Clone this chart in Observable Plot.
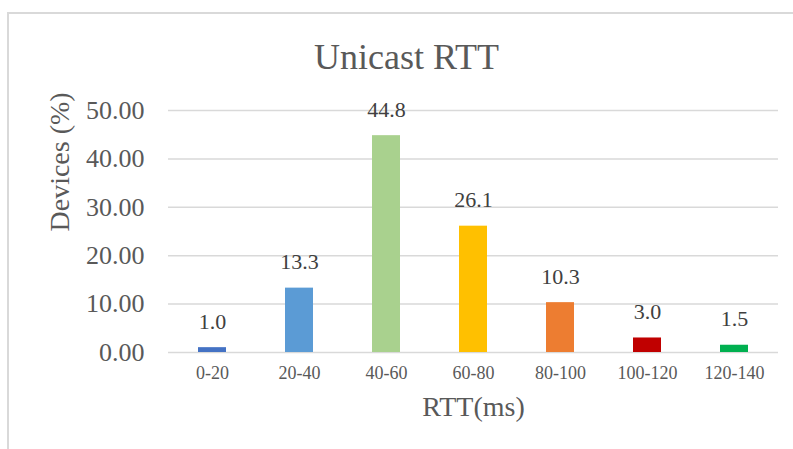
<!DOCTYPE html>
<html>
<head>
<meta charset="utf-8">
<script src="https://cdn.jsdelivr.net/npm/d3@7"></script>
<script src="https://cdn.jsdelivr.net/npm/@observablehq/plot@0.6"></script>
<style>
  html, body { margin: 0; padding: 0; background: #fff; overflow: hidden; }
  #wrap { position: relative; width: 793px; height: 449px; }
  #frame { position: absolute; left: 7px; top: 12px; width: 820px; height: 480px; border: 2px solid #d9d9d9; box-sizing: border-box; }
  #chart { position: absolute; left: 0; top: 0; }
</style>
</head>
<body>
<div id="wrap"><div id="frame"></div><div id="chart"></div></div>
<script>
const categories = ["0-20", "20-40", "40-60", "60-80", "80-100", "100-120", "120-140"];
const values = [1.0, 13.3, 44.8, 26.1, 10.3, 3.0, 1.5];
const colors = ["#4472C4", "#5B9BD5", "#A9D18E", "#FFC000", "#ED7D31", "#C00000", "#00B050"];
const yTicks = [0, 10, 20, 30, 40, 50];
const title = "Unicast RTT";
const xLabel = "RTT(ms)";
const yLabel = "Devices (%)";

const data = categories.map((c, i) => ({cat: c, value: values[i], color: colors[i]}));
const font = "'Liberation Serif', 'Times New Roman', serif";

const chart = Plot.plot({
  width: 793,
  height: 449,
  marginLeft: 168,
  marginRight: 15,
  marginTop: 110,
  marginBottom: 97,
  style: {fontFamily: font, background: "transparent", overflow: "visible"},
  x: {domain: categories, paddingInner: 0.68, paddingOuter: 0.34, label: null},
  y: {domain: [0, 50], label: null},
  marks: [
    Plot.gridY(yTicks, {stroke: "#d9d9d9", strokeOpacity: 1, strokeWidth: 1.5}),
    Plot.barY(data, {x: "cat", y: "value", fill: "color"}),
    Plot.axisX({tickSize: 0, tickPadding: 14, fontSize: 18, fill: "#595959", label: null}),
    Plot.axisY({ticks: yTicks, tickSize: 0, tickPadding: 24, fontSize: 26, fill: "#595959", tickFormat: d3.format(".2f"), label: null}),
    Plot.text(data, {x: "cat", y: "value", text: d => d.value.toFixed(1), dy: -26, fontSize: 22, fill: "#404040"}),
    Plot.text([title], {frameAnchor: "top", lineAnchor: "middle", dx: -67, dy: -53, fontSize: 36, fill: "#595959"}),
    Plot.text([xLabel], {frameAnchor: "bottom", lineAnchor: "middle", dy: 55, fontSize: 28, fill: "#595959"}),
    Plot.text([yLabel], {frameAnchor: "left", lineAnchor: "middle", dx: -108, rotate: -90, fontSize: 28, fill: "#595959"})
  ]
});
document.getElementById("chart").appendChild(chart);
</script>
</body>
</html>
